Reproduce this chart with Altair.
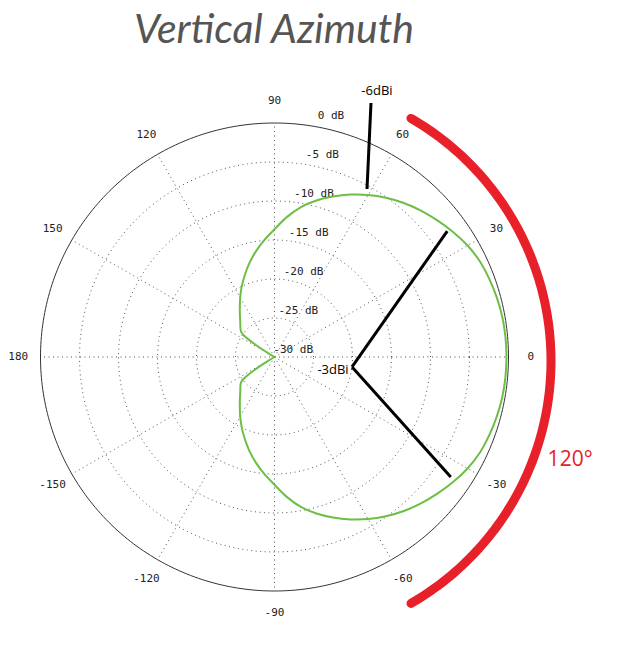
import numpy as np
import pandas as pd
import altair as alt

# ---------------- data ----------------
FLOOR_DB = -30
RING_DB = [-25, -20, -15, -10, -5]
OUTER_DB = 0
DB_LABEL_LEVELS = [0, -5, -10, -15, -20, -25, -30]
DB_LABELS = ["0 dB", "-5 dB", "-10 dB", "-15 dB", "-20 dB", "-25 dB", "-30 dB"]
SPOKE_ANGLES = [0, 30, 60, 90, 120, 150, 180, 210, 240, 270, 300, 330]
ANGLE_TICKS = [0, 30, 60, 90, 120, 150, 180, -150, -120, -90, -60, -30]

ANGLES = [-150, -149, -147, -145, -143, -140, -135, -130, -125, -120, -115, -110,
          -105, -100, -95, -90, -85, -80, -75, -70, -65, -60, -55, -50, -45, -40,
          -35, -30, -25, -20, -15, -10, -5, 0, 5, 10, 15, 20, 25, 30, 35, 40, 45,
          50, 55, 60, 65, 70, 75, 80, 85, 90, 95, 100, 105, 110, 115, 120, 125,
          130, 135, 140, 143, 145, 147, 149, 150]
GAIN_DB = [-30.0, -29.1, -27.0, -25.3, -24.65, -24.3, -23.8, -23.1, -22.25, -21.2,
           -20.05, -18.85, -17.55, -16.25, -14.95, -13.62, -12.0, -10.48, -9.22, -8.1,
           -7.02, -6.0, -5.07, -4.22, -3.45, -2.75, -2.05, -1.42, -0.96, -0.7,
           -0.5, -0.35, -0.28, -0.26, -0.28, -0.35, -0.5, -0.7, -0.96, -1.42,
           -2.05, -2.75, -3.45, -4.22, -5.07, -6.0, -7.02, -8.1, -9.22, -10.48,
           -12.0, -13.62, -14.95, -16.25, -17.55, -18.85, -20.05, -21.2, -22.25,
           -23.1, -23.8, -24.3, -24.65, -25.3, -27.0, -29.1, -30.0]

BEAM_LABEL = "120°"
BEAM_SPAN = [-60, 60]
LBL_6DB = "-6dBi"
LBL_3DB = "-3dBi"
TITLE = "Vertical Azimuth"

# ---------------- layout ----------------
U = 7.8            # px per dB of radius
W, H = 600, 630
CX, CY = 266.5, 349
XD = [-CX / U, (W - CX) / U]
YD = [(CY - H) / U, CY / U]
sx = alt.Scale(domain=XD, nice=False, zero=False)
sy = alt.Scale(domain=YD, nice=False, zero=False)
R_MAX = OUTER_DB - FLOOR_DB

GREEN = "#6cbf45"
GRID = "#555555"
MONO = "DejaVu Sans Mono"


def X(f):
    return alt.X(f, type="quantitative", scale=sx, axis=None)


def Y(f):
    return alt.Y(f, type="quantitative", scale=sy, axis=None)


def circle_df(radii, a0=0, a1=360, step=2, ox=0.0, oy=0.0):
    rows = []
    for k, r in enumerate(radii):
        for i, a in enumerate(np.arange(a0, a1 + step * 0.5, step)):
            t = np.deg2rad(a)
            rows.append({"ring": k, "i": i, "x": ox + r * np.cos(t), "y": oy + r * np.sin(t)})
    return pd.DataFrame(rows)


# grid rings (dotted)
rings = alt.Chart(circle_df([d - FLOOR_DB for d in RING_DB])).mark_line(
    color=GRID, strokeWidth=1, strokeDash=[1, 3.5]
).encode(x=X("x"), y=Y("y"), detail="ring:N", order="i:Q")

# outer circle (solid)
outer = alt.Chart(circle_df([OUTER_DB - FLOOR_DB], step=1)).mark_line(
    color="#333333", strokeWidth=1
).encode(x=X("x"), y=Y("y"), detail="ring:N", order="i:Q")

# spokes
spk = pd.DataFrame({"angle": SPOKE_ANGLES})
spokes = alt.Chart(spk).transform_calculate(
    x0="0", y0="0",
    x1=f"{R_MAX}*cos(datum.angle*PI/180)",
    y1=f"{R_MAX}*sin(datum.angle*PI/180)",
).mark_rule(color=GRID, strokeWidth=1, strokeDash=[1, 3.5]).encode(
    x=X("x0"), y=Y("y0"), x2="x1:Q", y2="y1:Q"
)

# angle labels
atk = pd.DataFrame({"angle": ANGLE_TICKS, "label": [str(a) for a in ANGLE_TICKS]})
angle_lbl = alt.Chart(atk).transform_calculate(
    x=f"{R_MAX + 2.85}*cos(datum.angle*PI/180)",
    y=f"{R_MAX + 2.85}*sin(datum.angle*PI/180)",
).mark_text(font=MONO, fontSize=11, color="#222222", align="center", baseline="middle").encode(
    x=X("x"), y=Y("y"), text="label:N"
)

# dB labels
dbl = pd.DataFrame({"db": DB_LABEL_LEVELS, "label": DB_LABELS})
db_lbl = alt.Chart(dbl).transform_calculate(
    r=f"datum.db - ({FLOOR_DB})"
).transform_calculate(
    x="4.94 + 0.133*datum.r", y="datum.r + 0.9"
).mark_text(font=MONO, fontSize=11, color="#222222", align="right", baseline="middle").encode(
    x=X("x"), y=Y("y"), text="label:N"
)

# pattern
pat = pd.DataFrame({"angle": ANGLES, "db": GAIN_DB, "i": range(len(ANGLES))})
pattern = alt.Chart(pat).transform_calculate(
    r=f"max(datum.db, {FLOOR_DB}) - ({FLOOR_DB})"
).transform_calculate(
    x="datum.r*cos(datum.angle*PI/180)", y="datum.r*sin(datum.angle*PI/180)"
).mark_line(color=GREEN, strokeWidth=2, interpolate="catmull-rom").encode(
    x=X("x"), y=Y("y"), order="i:Q"
)

# red beam arc
arc = alt.Chart(circle_df([35.9], a0=BEAM_SPAN[0], a1=BEAM_SPAN[1], step=1, ox=-0.45, oy=-0.5)).mark_line(
    color="#e8202a", strokeWidth=9, strokeCap="round"
).encode(x=X("x"), y=Y("y"), order="i:Q")

one = alt.Data(values=[{}])


def seg(x1, y1, x2, y2, w=3):
    return alt.Chart(one).mark_rule(color="black", strokeWidth=w).encode(
        x=alt.X(datum=x1, type="quantitative", scale=sx, axis=None),
        y=alt.Y(datum=y1, type="quantitative", scale=sy, axis=None),
        x2=alt.X2(datum=x2), y2=alt.Y2(datum=y2),
    )


def txt(x, y, s, **kw):
    return alt.Chart(one).mark_text(**kw).encode(
        x=alt.X(datum=x, type="quantitative", scale=sx, axis=None),
        y=alt.Y(datum=y, type="quantitative", scale=sy, axis=None),
        text=alt.value(s),
    )


ann = [
    seg(9.94, -1.28, 22.15, 16.15),
    seg(9.94, -1.28, 22.6, -15.4),
    seg(12.37, 32.56, 11.86, 21.54),
    txt(13.14, 34.1, LBL_6DB, font="Open Sans", fontSize=13, color="black"),
    txt(7.5, -1.67, LBL_3DB, font="Open Sans", fontSize=13, color="black"),
    txt(37.9, -13.2, BEAM_LABEL, font="Open Sans", fontSize=21, color="#e8202a"),
]

title = alt.Chart(one).mark_text(
    font="Lato", fontStyle="italic", fontSize=41, color="#555555",
    align="center", baseline="alphabetic"
).encode(x=alt.value(266), y=alt.value(35), text=alt.value(TITLE))

chart = alt.layer(
    rings, spokes, outer, angle_lbl, db_lbl, arc, pattern, *ann, title
).properties(width=W, height=H, padding=0, autosize="none").configure_view(stroke=None)

chart.save("out.html", embed_options={"renderer": "svg", "actions": False})
